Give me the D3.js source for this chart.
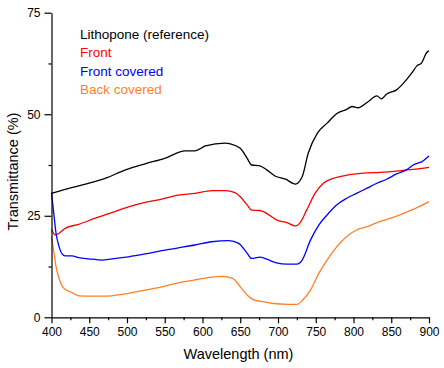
<!DOCTYPE html>
<html><head><meta charset="utf-8">
<script src="https://cdn.jsdelivr.net/npm/d3@7"></script>
<style>body{margin:0;background:#fff;}svg{display:block;font-family:Arial,"Liberation Sans",sans-serif;}</style>
</head><body>
<script>
const seriesNames = ["Lithopone (reference)", "Front", "Front covered", "Back covered"];
const seriesColors = ["#000000", "#ff0000", "#0000ff", "#ff7f27"];

const lithoponeWl = [400,418,445,471,498,524,551,577,590,604,630,637,650,659,665,676,685,696,710,723,732,740,752,765,778,791,798,806,818,831,837,844,857,866,877,884,890,897,900];
const lithoponeT  = [30.5,31.5,32.8,34.2,36.3,37.8,39.2,41.0,41.0,42.2,42.9,42.7,41.6,39.2,37.5,37.3,36.3,34.8,34.0,32.8,34.6,40.4,45.3,47.8,50.2,51.2,51.9,51.6,52.9,54.5,53.8,55.0,56.0,57.6,60.1,61.9,62.6,65.2,65.6];

const frontWl = [400,405,410,418,436,458,480,502,524,546,568,590,612,630,643,650,659,665,676,685,698,712,723,729,738,749,760,773,791,813,835,857,879,900];
const frontT  = [21.7,20.3,20.7,21.9,22.9,24.4,25.8,27.2,28.3,29.1,30.1,30.5,31.2,31.2,30.7,29.7,27.7,26.4,26.3,25.6,24.0,23.3,22.5,23.2,26.4,30.5,33.0,34.2,35.0,35.5,35.7,36.0,36.4,36.9];

const frontCovWl = [400,403,406,410,414,418,427,436,449,467,480,502,524,546,568,590,612,635,648,659,665,676,685,698,712,725,732,743,754,765,778,791,804,818,831,844,857,870,879,892,900];
const frontCovT  = [30.7,25.6,20.7,17.4,15.6,15.1,15.1,14.7,14.4,14.1,14.4,14.9,15.6,16.4,17.1,17.8,18.6,18.9,18.2,15.8,14.5,14.8,14.3,13.4,13.1,13.1,14.1,19.0,22.7,25.2,27.7,29.3,30.5,31.8,33.0,34.0,35.3,36.3,37.5,38.5,39.7];

const backCovWl = [400,403,406,410,414,418,427,436,449,467,480,502,524,546,568,590,612,626,640,650,659,668,681,694,712,725,733,743,754,765,778,791,804,818,831,844,857,870,884,900];
const backCovT  = [19.9,16.2,12.5,9.6,7.7,6.9,6.1,5.3,5.2,5.2,5.3,5.9,6.7,7.5,8.5,9.2,9.9,10.1,9.6,7.5,5.5,4.3,3.8,3.4,3.2,3.2,4.3,6.7,10.8,14.1,17.4,19.9,21.5,22.3,23.3,24.1,24.9,25.9,27.0,28.5];

const xTicks = [400,450,500,550,600,650,700,750,800,850,900];
const yTicks = [0,25,50,75];
const xTitle = "Wavelength (nm)";
const yTitle = "Transmittance (%)";

const W = 444, H = 368;
const svg = d3.select("body").append("svg").attr("width", W).attr("height", H);

const x = d3.scaleLinear().domain([400, 900]).range([51.5, 429]);
const y = d3.scaleLinear().domain([0, 75]).range([317.3, 12.7]);

const seriesData = [
  d3.zip(lithoponeWl, lithoponeT),
  d3.zip(frontWl, frontT),
  d3.zip(frontCovWl, frontCovT),
  d3.zip(backCovWl, backCovT)
];

const line = d3.line().x(d => x(d[0])).y(d => y(d[1])).curve(d3.curveMonotoneX);

// draw lines: orange, blue, red, black order similar to original
seriesData.forEach((d, i) => {
  svg.append("path").datum(d)
    .attr("fill", "none")
    .attr("stroke", seriesColors[i])
    .attr("stroke-width", 1.3)
    .attr("stroke-linejoin", "round")
    .attr("d", line);
});

// axes
const minorX = d3.range(425, 900, 50);
const minorY = d3.range(12.5, 75, 25);

const xAxis = svg.append("g").attr("transform", `translate(0,${y(0)})`)
  .call(d3.axisBottom(x).tickValues(xTicks).tickSize(6).tickSizeOuter(0).tickPadding(4));
svg.append("g").attr("transform", `translate(0,${y(0)})`)
  .call(d3.axisBottom(x).tickValues(minorX).tickSize(3).tickSizeOuter(0).tickFormat(""))
  .select(".domain").remove();
const yAxis = svg.append("g").attr("transform", `translate(${x(400)},0)`)
  .call(d3.axisLeft(y).tickValues(yTicks).tickSize(7).tickSizeOuter(0).tickPadding(4));
svg.append("g").attr("transform", `translate(${x(400)},0)`)
  .call(d3.axisLeft(y).tickValues(minorY).tickSize(3).tickSizeOuter(0).tickFormat(""))
  .select(".domain").remove();

svg.selectAll(".domain, .tick line").attr("stroke", "#000").attr("stroke-width", 1.2);
svg.selectAll(".tick text").attr("font-size", 12).attr("fill", "#000")
  .attr("font-family", "Arial, 'Liberation Sans', sans-serif");

svg.append("text").attr("x", 238.5).attr("y", 359)
  .attr("text-anchor", "middle").attr("font-size", 14.5).text(xTitle);
svg.append("text").attr("transform", "translate(17.5,171.5) rotate(-90)")
  .attr("text-anchor", "middle").attr("font-size", 14.5).text(yTitle);

// legend
seriesNames.forEach((n, i) => {
  svg.append("text").attr("x", 80).attr("y", 39 + i * 18.4)
    .attr("font-size", 13.5).attr("fill", seriesColors[i]).text(n);
});
</script>
</body></html>
